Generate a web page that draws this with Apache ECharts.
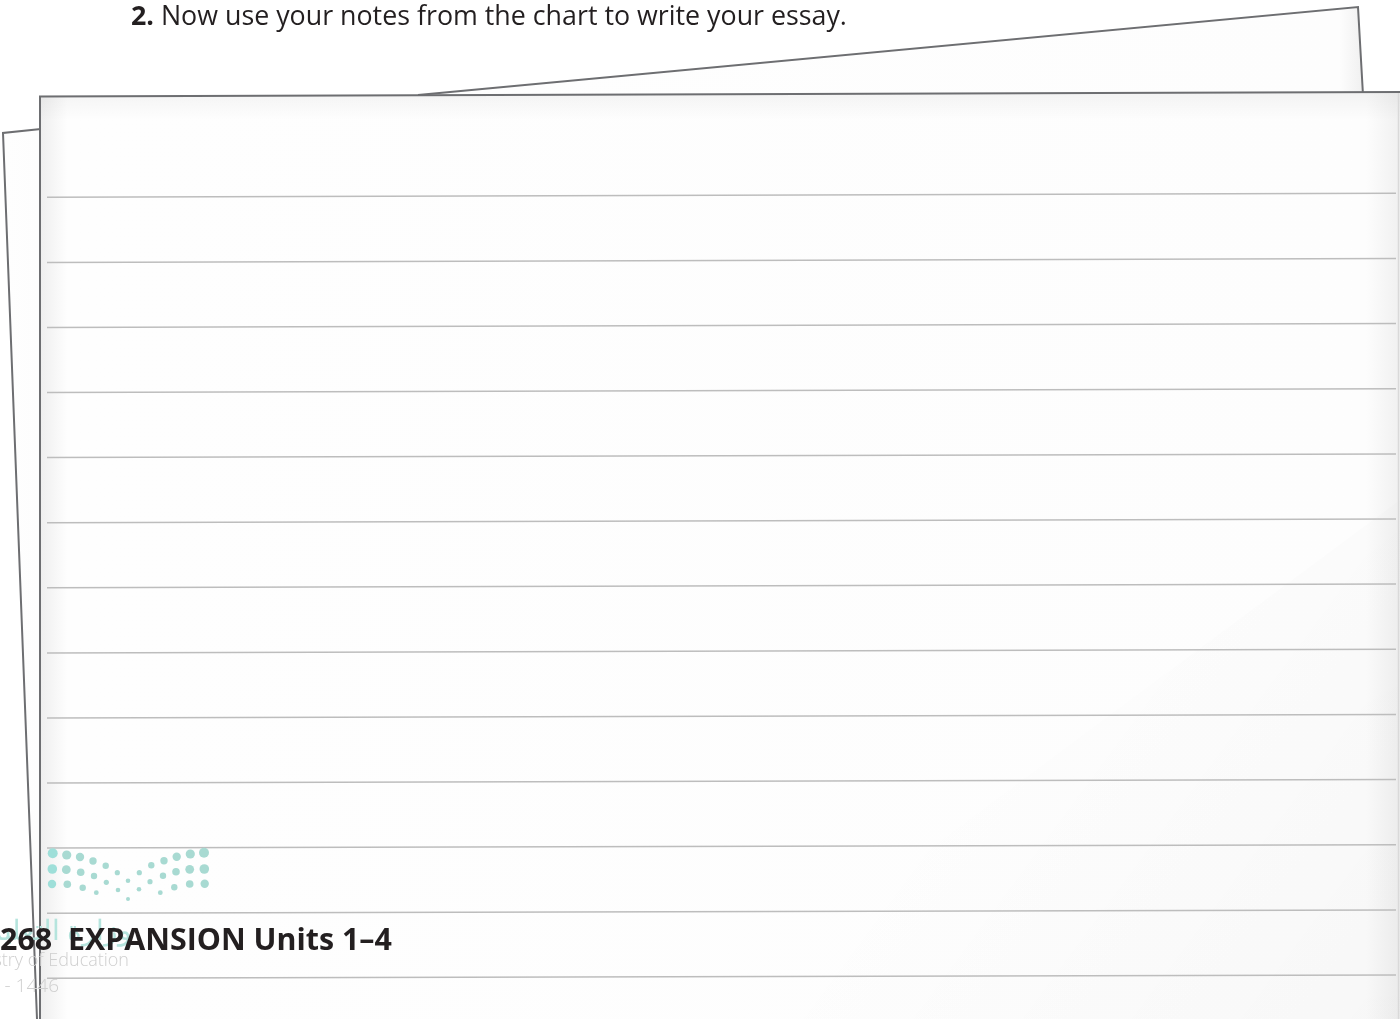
<!DOCTYPE html>
<html>
<head>
<meta charset="utf-8">
<script src="https://cdn.jsdelivr.net/npm/echarts@6/dist/echarts.min.js"></script>
<style>
  html, body { margin: 0; padding: 0; background: #fff; }
  #main { width: 1400px; height: 1019px; }
</style>
</head>
<body>
<div id="main"></div>
<script>
// writing rules: y at the left end and at the right end of each line
var ruleX = [47, 1396];
var ruleLeftY = [197.3, 262.4, 327.5, 392.5, 457.6, 522.7, 587.8, 652.9, 718, 783, 848.1, 913.2, 978.3];
var ruleRightY = [193.3, 258.4, 323.6, 388.7, 453.9, 519, 584.1, 649.3, 714.4, 779.6, 844.7, 909.9, 975];

// logo dots
var dotX = [52.7, 66.7, 80, 93, 105.7, 117.3, 139.3, 151.3, 164, 176.7, 190.3, 204,
            52.3, 66.3, 80.7, 94, 106.3, 128, 150, 163, 176, 189.7, 204.3,
            52, 67.3, 82.7, 96.3, 118, 139, 160.3, 174.3, 189.7, 204.7,
            128];
var dotY = [853.3, 855, 857, 861, 865.7, 872.7, 872.7, 865.3, 860.7, 856.7, 854, 852.7,
            869, 869.7, 872.3, 876, 882.3, 880.7, 881.7, 875.7, 871.7, 869.3, 869,
            884, 884.3, 887.7, 892.7, 890, 889.3, 892.7, 887.3, 884, 883.7,
            899];
var dotR = [5, 4.6, 4.2, 3.7, 3.2, 2.6, 2.6, 3.2, 3.7, 4.2, 4.6, 5,
            4.8, 4.4, 3.8, 3.2, 2.6, 2.3, 2.6, 3.2, 3.8, 4.4, 4.8,
            4.2, 3.8, 3.2, 2.4, 2.3, 2.3, 2.4, 3.2, 3.8, 4.2,
            2];

var taskText = 'Now use your notes from the chart to write your essay.';
var footerText = 'EXPANSION Units 1\u20134';

// paper sheets (back to front)
var sheets = [
  { pts: [[418, 95], [1358, 7], [1363, 95]], edge: [[418, 95], [1358, 7], [1363, 95]] },
  { pts: [[3, 133], [41, 129], [41, 1019], [37, 1019]], edge: [[41, 129], [3, 133], [37, 1019]] },
  { pts: [[40, 96.5], [1400, 92], [1400, 1019], [40, 1019]], edge: [[40, 1019], [40, 96.5], [1400, 92]] }
];

var LG = echarts.graphic.LinearGradient;

var myChart = echarts.init(document.getElementById('main'));

var ruleData = ruleLeftY.map(function (y, i) {
  return { coords: [[ruleX[0], y], [ruleX[1], ruleRightY[i]]] };
});
var dotData = dotX.map(function (x, i) { return [x, dotY[i], dotR[i]]; });

var option = {
  animation: false,
  backgroundColor: '#ffffff',
  grid: { left: 0, right: 0, top: 0, bottom: 0 },
  xAxis: { type: 'value', min: 0, max: 1400, show: false },
  yAxis: { type: 'value', min: 0, max: 1019, inverse: true, show: false },
  series: [
    {
      type: 'custom',
      z: 1,
      data: sheets.map(function (s, i) { return i; }),
      renderItem: function (params, api) {
        var s = sheets[params.dataIndex];
        var pts = s.pts.map(function (p) { return api.coord(p); });
        var edge = s.edge.map(function (p) { return api.coord(p); });
        var children = [
          {
            type: 'polygon',
            shape: { points: pts },
            style: {
              fill: new LG(0, 0, 1, 0, [
                { offset: 0, color: '#eeeeee' },
                { offset: 0.02, color: '#fefefe' },
                { offset: 0.975, color: '#fdfdfd' },
                { offset: 1, color: '#f0f0f0' }
              ])
            }
          }
        ];
        if (params.dataIndex === 2) {
          // soft shade along the top and in the lower right corner
          children.push({
            type: 'polygon',
            shape: { points: [api.coord([40, 96.5]), api.coord([1400, 92]), api.coord([1400, 120]), api.coord([40, 120])] },
            style: { fill: new LG(0, 0, 0, 1, [
              { offset: 0, color: 'rgba(0,0,0,0.045)' },
              { offset: 1, color: 'rgba(0,0,0,0)' }
            ]) }
          });
          children.push({
            type: 'polygon',
            shape: { points: [api.coord([700, 1019]), api.coord([1400, 500]), api.coord([1400, 1019])] },
            style: { fill: new LG(0, 0, 1, 1, [
              { offset: 0.4, color: 'rgba(0,0,0,0)' },
              { offset: 1, color: 'rgba(0,0,0,0.025)' }
            ]) }
          });
          children.push({
            type: 'line',
            shape: { x1: api.coord([1398.5, 92])[0], y1: api.coord([1398.5, 92])[1], x2: api.coord([1398.5, 1019])[0], y2: api.coord([1398.5, 1019])[1] },
            style: { stroke: '#d9d9d9', lineWidth: 1.5 }
          });
        }
        children.push({
          type: 'polyline',
          shape: { points: edge },
          style: { stroke: '#6d6e71', lineWidth: 2, fill: null }
        });
        return { type: 'group', children: children };
      }
    },
    {
      type: 'lines',
      coordinateSystem: 'cartesian2d',
      z: 3,
      data: ruleData,
      lineStyle: { color: '#bdbdbd', width: 1.5, opacity: 1 },
      symbol: 'none'
    },
    {
      type: 'scatter',
      z: 4,
      data: dotData,
      symbolSize: function (v) { return v[2] * 2; },
      itemStyle: {
        color: function (p) {
          return p.value[0] < 60 ? '#9edfd9' : '#a8dad2';
        },
        opacity: 1
      }
    }
  ],
  graphic: [
    {
      type: 'text', x: 131, y: 17.5, z: 10,
      style: {
        text: '{b|2.} ' + taskText,
        fill: '#231f20',
        font: '26.8px "Open Sans"',
        verticalAlign: 'middle',
        rich: { b: { fontWeight: 'bold', fontSize: 26.8, fontFamily: 'Open Sans', fill: '#231f20' } }
      }
    },
    {
      type: 'text', z: 5, x: 132, y: 932,
      style: { text: '\u0648\u0632\u0627\u0631\u0629 \u0627\u0644\u062a\u0639\u0644\u064a\u0645', fill: '#b5e4dd', font: '28px "Noto Sans"', align: 'right', verticalAlign: 'middle' }
    },
    {
      type: 'text', z: 5, x: 129, y: 961,
      style: { text: 'Ministry of Education', fill: '#cfcfcf', font: '300 18px "Open Sans"', align: 'right', verticalAlign: 'middle' }
    },
    {
      type: 'text', z: 5, x: 59, y: 987,
      style: { text: '2024 - 1446', fill: '#cfcfcf', font: '300 19px "Open Sans"', align: 'right', verticalAlign: 'middle' }
    },
    {
      type: 'text', z: 10, x: 0, y: 941,
      style: {
        text: '268  ' + footerText,
        fill: '#231f20',
        font: 'bold 30.4px "Open Sans"',
        verticalAlign: 'middle'
      }
    }
  ]
};

myChart.setOption(option);
</script>
</body>
</html>
